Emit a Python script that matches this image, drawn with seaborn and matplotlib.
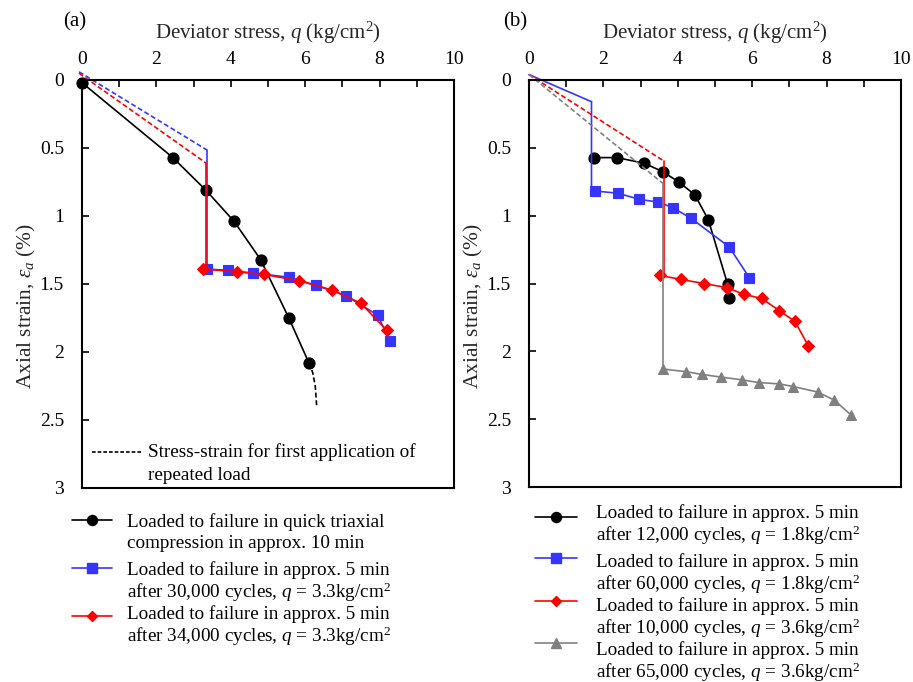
import matplotlib
matplotlib.use("Agg")
import matplotlib.pyplot as plt
from matplotlib.lines import Line2D
import seaborn as sns

# ---------------- data ----------------
# Panel (a): quick triaxial test and reloading after cyclic loading
a_quick_q = [0.0, 2.44, 3.33, 4.09, 4.80, 5.56, 6.10]
a_quick_e = [0.02, 0.57, 0.81, 1.04, 1.32, 1.75, 2.08]
a_first_q = [6.10, 6.20, 6.27, 6.31]
a_first_e = [2.08, 2.15, 2.25, 2.40]

a_30k_pre_q = [-0.08, 3.36]
a_30k_pre_e = [-0.06, 0.515]
a_30k_q = [3.36, 3.93, 4.61, 5.56, 6.29, 7.09, 7.95, 8.28]
a_30k_e = [1.39, 1.40, 1.42, 1.45, 1.51, 1.585, 1.73, 1.92]

a_34k_pre_q = [-0.08, 3.33]
a_34k_pre_e = [-0.05, 0.61]
a_34k_q = [3.26, 4.16, 4.89, 5.83, 6.73, 7.49, 8.19]
a_34k_e = [1.39, 1.41, 1.43, 1.475, 1.545, 1.64, 1.84]

# Panel (b): reloading after different numbers of cycles
b_12k_q = [1.75, 2.37, 3.10, 3.59, 4.04, 4.46, 4.82, 5.34, 5.38]
b_12k_e = [0.572, 0.572, 0.614, 0.675, 0.754, 0.847, 1.03, 1.506, 1.61]

b_60k_pre_q = [0.0, 1.68]
b_60k_pre_e = [-0.04, 0.16]
b_60k_q = [1.77, 2.40, 2.97, 3.48, 3.86, 4.36, 5.38, 5.92]
b_60k_e = [0.818, 0.835, 0.88, 0.90, 0.94, 1.02, 1.23, 1.456]

b_10k_pre_q = [0.0, 3.64]
b_10k_pre_e = [-0.04, 0.60]
b_10k_q = [3.52, 4.08, 4.70, 5.31, 5.78, 6.25, 6.73, 7.15, 7.51]
b_10k_e = [1.44, 1.47, 1.50, 1.53, 1.58, 1.61, 1.70, 1.78, 1.96]

b_65k_pre_q = [0.0, 3.59]
b_65k_pre_e = [-0.04, 0.76]
b_65k_q = [3.59, 4.22, 4.64, 5.17, 5.72, 6.17, 6.73, 7.11, 7.76, 8.21, 8.66]
b_65k_e = [2.13, 2.15, 2.17, 2.19, 2.21, 2.23, 2.24, 2.26, 2.30, 2.36, 2.47]

x_ticks = [0, 2, 4, 6, 8, 10]
y_ticks = [0, 0.5, 1, 1.5, 2, 2.5, 3]
y_tick_labels = ["0", "0.5", "1", "1.5", "2", "2.5", "3"]

legend_a = [
    ["Loaded to failure in quick triaxial", "compression in approx. 10 min"],
    ["Loaded to failure in approx. 5 min", r"after 30,000 cycles, $q$ = 3.3kg/cm$^2$"],
    ["Loaded to failure in approx. 5 min", r"after 34,000 cycles, $q$ = 3.3kg/cm$^2$"],
]
legend_b = [
    ["Loaded to failure in approx. 5 min", r"after 12,000 cycles, $q$ = 1.8kg/cm$^2$"],
    ["Loaded to failure in approx. 5 min", r"after 60,000 cycles, $q$ = 1.8kg/cm$^2$"],
    ["Loaded to failure in approx. 5 min", r"after 10,000 cycles, $q$ = 3.6kg/cm$^2$"],
    ["Loaded to failure in approx. 5 min", r"after 65,000 cycles, $q$ = 3.6kg/cm$^2$"],
]

# ---------------- style ----------------
sns.set_theme(style="white")
plt.rcParams["font.family"] = ["Liberation Serif", "DejaVu Serif"]
plt.rcParams["mathtext.fontset"] = "custom"
plt.rcParams["mathtext.rm"] = "Liberation Serif"
plt.rcParams["mathtext.it"] = "Liberation Serif:italic"
plt.rcParams["text.color"] = "black"

FS_TICK = 14
FS_LEG = 13.8
FS_XLAB = 15
FS_YLAB = 15.4
FS_PANEL = 15
BLACK = "#000000"
BLUE = "#3535FF"
RED = "#FF0000"
GRAY = "#808080"
LW = 1.2
DASH = (0, (3.0, 1.6))

# marker styles: (marker, size)
M_CIRC = ("o", 8.0)
M_SQ = ("s", 7.8)
M_DIA = ("D", 6.2)
M_TRI = ("^", 7.8)

W, H = 913, 682
fig = plt.figure(figsize=(W / 100, H / 100), dpi=100)
axA = fig.add_axes([82 / W, 1 - 488 / H, 372 / W, 408 / H])
axB = fig.add_axes([529 / W, 1 - 487 / H, 372 / W, 407 / H])


def series(ax, q, e, color, mk=None, ls="-", clip=True):
    kw = dict(x=q, y=e, ax=ax, sort=False, estimator=None, color=color,
              linewidth=LW, linestyle=ls, legend=False, clip_on=clip)
    if mk is not None:
        kw.update(marker=mk[0], markersize=mk[1], markeredgecolor=color,
                  markerfacecolor=color, markeredgewidth=0.8)
    sns.lineplot(**kw)


# Panel (a)
series(axA, a_quick_q, a_quick_e, BLACK, M_CIRC, clip=False)
series(axA, a_first_q, a_first_e, BLACK, ls=DASH)
series(axA, a_30k_pre_q, a_30k_pre_e, BLUE, ls=DASH, clip=False)
series(axA, [a_30k_pre_q[1], a_30k_q[0]], [a_30k_pre_e[1], a_30k_e[0]], BLUE)
series(axA, a_30k_q, a_30k_e, BLUE, M_SQ)
series(axA, a_34k_pre_q, a_34k_pre_e, RED, ls=DASH, clip=False)
series(axA, [a_34k_pre_q[1], a_34k_pre_q[1], a_34k_q[0]],
       [a_34k_pre_e[1], a_34k_e[0], a_34k_e[0]], RED)
series(axA, a_34k_q, a_34k_e, RED, M_DIA)

# Panel (b)
series(axB, b_12k_q, b_12k_e, BLACK, M_CIRC)
series(axB, b_60k_pre_q, b_60k_pre_e, BLUE, clip=False)
series(axB, [b_60k_pre_q[1], b_60k_pre_q[1], b_60k_q[0]],
       [b_60k_pre_e[1], 0.79, b_60k_e[0]], BLUE)
series(axB, b_60k_q, b_60k_e, BLUE, M_SQ)
series(axB, b_10k_pre_q, b_10k_pre_e, RED, ls=DASH, clip=False)
series(axB, [b_10k_pre_q[1], b_10k_pre_q[1], b_10k_q[0]],
       [b_10k_pre_e[1], b_10k_e[0], b_10k_e[0]], RED)
series(axB, b_10k_q, b_10k_e, RED, M_DIA)
series(axB, b_65k_pre_q, b_65k_pre_e, GRAY, ls=DASH, clip=False)
series(axB, [b_65k_pre_q[1], b_65k_q[0]], [b_65k_pre_e[1], b_65k_e[0]], GRAY)
series(axB, b_65k_q, b_65k_e, GRAY, M_TRI)

# ---------------- axes ----------------
for ax in (axA, axB):
    ax.set_xlim(0, 10)
    ax.set_ylim(3, 0)
    ax.xaxis.tick_top()
    ax.xaxis.set_label_position("top")
    ax.set_xticks(x_ticks)
    ax.set_xticklabels([str(t) for t in x_ticks])
    ax.set_xticks([1, 3, 5, 7, 9], minor=True)
    ax.set_yticks(y_ticks)
    ax.set_yticklabels(y_tick_labels)
    ax.tick_params(axis="x", which="both", direction="in", length=5, width=1.2,
                   pad=9, labelsize=FS_TICK, colors=BLACK, top=True, bottom=False)
    ax.tick_params(axis="y", direction="in", length=5, width=1.2, pad=13,
                   labelsize=FS_TICK, colors=BLACK, left=True, right=False)
    for sp in ax.spines.values():
        sp.set_visible(True)
        sp.set_color(BLACK)
        sp.set_linewidth(1.5)
    ax.set_xlabel(r"Deviator stress, $q$ (kg/cm$^2$)", fontsize=FS_XLAB, labelpad=8.5)
    ax.set_ylabel(r"Axial strain, $\varepsilon_a$ (%)", fontsize=FS_YLAB)
    ax.yaxis.set_label_coords(-44 / 372, 0.445)
    ax.grid(False)

fig.text(63 / W, 1 - 22 / H, "(a)", fontsize=FS_PANEL, va="center", ha="left")
fig.text(503 / W, 1 - 22 / H, "(b)", fontsize=FS_PANEL, va="center", ha="left")


# ---------------- legends ----------------
def key(x0, x1, y, color, mk=None, ls="-"):
    fig.add_artist(Line2D([x0 / W, x1 / W], [1 - y / H] * 2, transform=fig.transFigure,
                          color=color, lw=LW, ls=ls))
    if mk is not None:
        fig.add_artist(Line2D([(x0 + x1) / 2 / W], [1 - y / H], transform=fig.transFigure,
                              color=color, marker=mk[0], markersize=mk[1] * 0.9, ls="none"))


def label_lines(x, ys, lines):
    for y, s in zip(ys, lines):
        fig.text(x / W, 1 - y / H, s, fontsize=FS_LEG, va="center", ha="left")


# inside panel (a)
key(92, 142, 452, BLACK, ls=(0, (2.2, 1.2)))
label_lines(148, [452, 475], ["Stress-strain for first application of", "repeated load"])

# below panel (a)
styles_a = [(BLACK, M_CIRC), (BLUE, M_SQ), (RED, M_DIA)]
hy_a = [520, 568, 616]
ty_a = [(522, 543), (570, 592), (614, 636)]
for (c, mk), hy, ty, lines in zip(styles_a, hy_a, ty_a, legend_a):
    key(72, 112, hy, c, mk)
    label_lines(127, ty, lines)

# below panel (b)
styles_b = [(BLACK, M_CIRC), (BLUE, M_SQ), (RED, M_DIA), (GRAY, M_TRI)]
hy_b = [517, 558, 601, 643]
ty_b = [(513, 535), (562, 584), (606, 628), (650, 672)]
for (c, mk), hy, ty, lines in zip(styles_b, hy_b, ty_b, legend_b):
    key(535, 577, hy, c, mk)
    label_lines(596, ty, lines)

fig.savefig("out.png", dpi=100)
